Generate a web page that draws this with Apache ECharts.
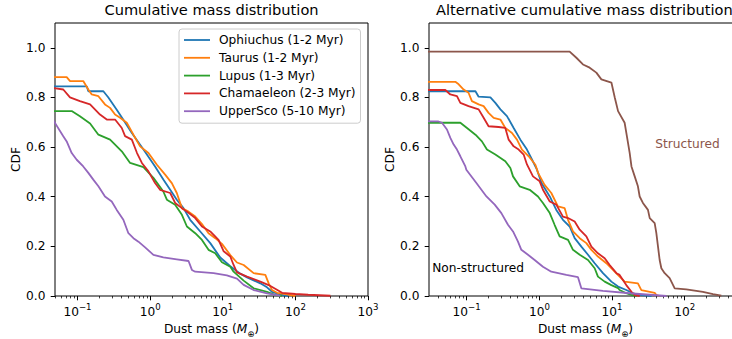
<!DOCTYPE html>
<html><head><meta charset="utf-8">
<script src="https://cdn.jsdelivr.net/npm/echarts@6/dist/echarts.min.js"></script>
<style>html,body{margin:0;padding:0;background:#fff}#c{width:732px;height:339px}</style>
</head><body><div id="c"></div>
<script>
// ---------- data (mass in Earth masses, CDF) ----------
const seriesNames = ['Ophiuchus (1-2 Myr)', 'Taurus (1-2 Myr)', 'Lupus (1-3 Myr)', 'Chamaeleon (2-3 Myr)', 'UpperSco (5-10 Myr)'];
const titles = ['Cumulative mass distribution', 'Alternative cumulative mass distribution'];
const yTicks = [0, 0.2, 0.4, 0.6, 0.8, 1.0];
const xMajorTicks = [0.1, 1, 10, 100, 1000];
const xMinorTicks = [0.02,0.03,0.04,0.05,0.06,0.07,0.08,0.09,0.2,0.3,0.4,0.5,0.6,0.7,0.8,0.9,2,3,4,5,6,7,8,9,20,30,40,50,60,70,80,90,200,300,400,500,600,700,800,900];
const xRangeLeft = [0.049, 1000];
const xRangeRight = [0.0303, 614];
const yRange = [0, 1.1];

// Left panel
const ophLeft = [[0.03,0.845],[0.134,0.845],[0.141,0.825],[0.227,0.825],[0.266,0.80],[0.347,0.75],[0.428,0.71],[0.56,0.657],[0.81,0.59],[1.17,0.522],[1.52,0.469],[1.89,0.428],[2.33,0.388],[2.88,0.354],[3.56,0.307],[4.9,0.26],[6.73,0.213],[9.24,0.155],[12.7,0.12],[17.4,0.09],[21.6,0.075],[32.9,0.051],[40.7,0.035],[47.7,0.017],[62.1,0.006],[80,0.0]];
const tauLeft = [[0.03,0.882],[0.071,0.882],[0.079,0.866],[0.12,0.866],[0.141,0.832],[0.157,0.812],[0.194,0.805],[0.239,0.772],[0.281,0.758],[0.329,0.731],[0.386,0.718],[0.477,0.698],[0.589,0.65],[0.728,0.603],[0.948,0.576],[1.24,0.529],[1.61,0.489],[1.99,0.455],[2.33,0.415],[2.74,0.354],[3.38,0.34],[4.18,0.32],[5.17,0.29],[6.37,0.253],[7.88,0.233],[9.75,0.21],[12.7,0.165],[15.7,0.135],[19.4,0.125],[26.6,0.092],[38.6,0.085],[42.9,0.051],[47.7,0.024],[55.9,0.013],[76.9,0.007],[100,0.0]];
const lupLeft = [[0.03,0.745],[0.0832,0.745],[0.108,0.724],[0.149,0.695],[0.194,0.65],[0.281,0.63],[0.407,0.583],[0.53,0.536],[0.809,0.519],[1.11,0.476],[1.52,0.421],[1.70,0.388],[2.21,0.368],[2.74,0.327],[3.21,0.28],[4.18,0.253],[5.17,0.226],[6.37,0.186],[7.88,0.172],[9.75,0.136],[12.7,0.118],[14.1,0.098],[19.4,0.062],[26.6,0.031],[40.7,0.017],[53,0.004],[65,0.0]];
const chaLeft = [[0.03,0.846],[0.0637,0.832],[0.0788,0.80],[0.108,0.785],[0.149,0.772],[0.204,0.731],[0.253,0.711],[0.329,0.711],[0.407,0.677],[0.452,0.644],[0.56,0.63],[0.66,0.576],[0.77,0.536],[0.948,0.502],[1.17,0.455],[1.37,0.428],[1.89,0.415],[2.21,0.375],[2.74,0.354],[3.21,0.34],[4.18,0.314],[5.17,0.28],[6.73,0.26],[8.75,0.226],[10.3,0.18],[12.7,0.159],[14.1,0.125],[15.7,0.095],[21.6,0.078],[32.9,0.058],[42.9,0.044],[58.9,0.021],[65.6,0.013],[100,0.008],[150,0.005],[304,0.001]];
const uscLeft = [[0.046,0.71],[0.0637,0.644],[0.071,0.623],[0.0832,0.576],[0.0975,0.549],[0.12,0.522],[0.141,0.496],[0.165,0.469],[0.194,0.442],[0.239,0.401],[0.296,0.381],[0.347,0.347],[0.428,0.307],[0.502,0.253],[0.589,0.233],[0.69,0.219],[0.853,0.196],[1.11,0.166],[1.52,0.156],[2.33,0.148],[3.38,0.141],[3.76,0.105],[4.18,0.098],[7.47,0.092],[11.4,0.083],[15.7,0.07],[19.4,0.045],[26.6,0.024],[40.7,0.011],[62.1,0.001]];

// Right panel
const ophRight = [[0.02,0.825],[0.132,0.825],[0.146,0.803],[0.212,0.80],[0.248,0.778],[0.291,0.752],[0.358,0.725],[0.443,0.677],[0.548,0.63],[0.675,0.59],[0.791,0.55],[0.927,0.509],[1.07,0.455],[1.39,0.401],[1.71,0.347],[2.11,0.307],[2.61,0.28],[3.06,0.233],[3.78,0.199],[4.67,0.166],[5.77,0.132],[7.5,0.092],[9.79,0.058],[12.1,0.038],[15.7,0.024],[19.4,0.011],[25.3,0.004],[35,0.0]];
const tauRight = [[0.02,0.863],[0.0698,0.863],[0.0776,0.853],[0.0908,0.832],[0.106,0.819],[0.118,0.785],[0.146,0.772],[0.171,0.765],[0.200,0.738],[0.235,0.718],[0.291,0.711],[0.340,0.677],[0.420,0.657],[0.492,0.63],[0.576,0.59],[0.713,0.563],[0.881,0.529],[0.96,0.496],[1.18,0.448],[1.46,0.415],[1.80,0.361],[2.23,0.354],[2.48,0.307],[2.90,0.26],[3.59,0.233],[4.43,0.213],[5.20,0.186],[6.40,0.159],[8.35,0.132],[10.3,0.105],[12.7,0.078],[14.9,0.058],[22.7,0.051],[25.3,0.024],[38.6,0.013],[40.7,0.004],[45,0.0]];
const lupRight = [[0.02,0.698],[0.0818,0.698],[0.101,0.677],[0.132,0.65],[0.162,0.623],[0.190,0.59],[0.248,0.57],[0.340,0.543],[0.399,0.516],[0.434,0.482],[0.536,0.442],[0.736,0.428],[0.957,0.401],[1.12,0.375],[1.39,0.334],[1.62,0.287],[1.90,0.24],[2.48,0.226],[2.90,0.186],[3.59,0.166],[4.67,0.145],[5.77,0.112],[6.40,0.078],[7.92,0.058],[9.79,0.044],[12.1,0.032],[12.7,0.024],[15.7,0.011],[18.5,0.004],[22,0.0]];
const chaRight = [[0.02,0.83],[0.0508,0.83],[0.0596,0.812],[0.0735,0.805],[0.0818,0.778],[0.106,0.765],[0.146,0.752],[0.171,0.718],[0.200,0.684],[0.275,0.681],[0.340,0.677],[0.378,0.63],[0.443,0.603],[0.519,0.59],[0.608,0.57],[0.675,0.53],[0.817,0.482],[1.01,0.462],[1.12,0.428],[1.39,0.381],[1.71,0.368],[2.11,0.32],[2.48,0.314],[3.06,0.30],[3.59,0.267],[4.43,0.24],[5.20,0.199],[6.40,0.172],[7.92,0.152],[9.27,0.125],[11.5,0.092],[12.7,0.085],[15.7,0.044],[18.5,0.017],[20.5,0.004],[24,0.0]];
const uscRight = [[0.02,0.704],[0.0402,0.704],[0.0457,0.698],[0.0535,0.671],[0.0596,0.637],[0.0662,0.61],[0.0735,0.59],[0.0818,0.563],[0.0959,0.522],[0.0989,0.509],[0.136,0.455],[0.187,0.401],[0.243,0.368],[0.300,0.334],[0.370,0.287],[0.434,0.26],[0.508,0.219],[0.565,0.186],[0.697,0.166],[0.861,0.145],[1.12,0.118],[1.46,0.098],[2.35,0.085],[3.40,0.076],[3.78,0.031],[7.5,0.021],[17.5,0.011],[36.6,0.004],[56,0.0]];
const structuredRight = [[0.02,0.985],[2.61,0.985],[3.23,0.96],[3.98,0.933],[4.92,0.92],[6.08,0.90],[7.13,0.873],[9.8,0.86],[10.9,0.80],[12.1,0.745],[14.9,0.698],[16.0,0.644],[17.5,0.576],[18.5,0.522],[20.5,0.482],[22.7,0.442],[24.0,0.401],[26.6,0.375],[31.2,0.347],[33.0,0.314],[38.6,0.294],[40.7,0.253],[42.9,0.199],[45.2,0.145],[47.7,0.112],[53,0.092],[62,0.072],[72.8,0.031],[105,0.027],[178,0.017],[245,0.008],[319,0.001]];

const annotations = [
  {text: 'Structured', at: [40, 0.6], color: '#8c564b'},
  {text: 'Non-structured', at: [0.034, 0.1], color: '#000000'}
];

// ---------- chart ----------
const FONT = 'DejaVu Sans';
const colors = ['#1f77b4', '#ff7f0e', '#2ca02c', '#d62728', '#9467bd'];
const brown = '#8c564b';
const chart = echarts.init(document.getElementById('c'), null, {renderer: 'svg'});

function logLabel(v) {
  const e = Math.round(Math.log10(v));
  return '{b|10}{s|' + (e < 0 ? '\u2212' + (-e) : e) + '}';
}
const tickRich = {
  b: {fontSize: 12.2, fontFamily: FONT, color: '#000', lineHeight: 16, verticalAlign: 'bottom'},
  s: {fontSize: 8.6, fontFamily: FONT, color: '#000', lineHeight: 6, verticalAlign: 'top'}
};
const nameRich = {
  n: {fontSize: 12.2, fontFamily: FONT, color: '#000', lineHeight: 16, verticalAlign: 'top'},
  i: {fontSize: 12.2, fontFamily: FONT, color: '#000', lineHeight: 16, verticalAlign: 'top', fontStyle: 'italic'},
  u: {fontSize: 8.6, fontFamily: FONT, color: '#000', lineHeight: 8, verticalAlign: 'bottom'}
};

function majorX(gridIndex, range) {
  return {
    type: 'log', gridIndex, min: range[0], max: range[1], position: 'bottom',
    axisLine: {show: false},
    splitLine: {show: false},
    axisTick: {show: true, length: 4.3, lineStyle: {color: '#000', width: 1}, customValues: xMajorTicks},
    axisLabel: {show: true, margin: 6, customValues: xMajorTicks, formatter: logLabel, rich: tickRich, hideOverlap: false},
    name: '{n|Dust mass (}{i|M}{u|\u2295}{n|)}', nameLocation: 'middle', nameGap: 25,
    nameTextStyle: {rich: nameRich}
  };
}
function minorX(gridIndex, range) {
  return {
    type: 'log', gridIndex, min: range[0], max: range[1], position: 'bottom',
    axisLine: {show: false}, splitLine: {show: false}, axisLabel: {show: false},
    axisTick: {show: true, length: 2.4, lineStyle: {color: '#000', width: 0.75}, customValues: xMinorTicks}
  };
}
function yAx(gridIndex, gap) {
  return {
    type: 'value', gridIndex, min: yRange[0], max: yRange[1],
    axisLine: {show: false}, splitLine: {show: false},
    axisTick: {show: true, length: 4.3, lineStyle: {color: '#000', width: 1}, customValues: yTicks},
    axisLabel: {show: true, margin: 9.5, customValues: yTicks, formatter: v => v.toFixed(1), fontSize: 12.2, fontFamily: FONT, color: '#000'},
    name: 'CDF', nameLocation: 'middle', nameRotate: 90, nameGap: gap,
    nameTextStyle: {fontSize: 12.2, fontFamily: FONT, color: '#000'}
  };
}
function line(name, data, color, panel) {
  return {
    type: 'line', name, data, xAxisIndex: panel * 2, yAxisIndex: panel,
    showSymbol: false, symbol: 'none', clip: true, animation: false,
    lineStyle: {width: 1.8, color}, itemStyle: {color}, emphasis: {disabled: true}
  };
}

const leftData = [ophLeft, tauLeft, lupLeft, chaLeft, uscLeft];
const rightData = [ophRight, tauRight, lupRight, chaRight, uscRight];
const series = [];
leftData.forEach((d, i) => series.push(line(seriesNames[i], d, colors[i], 0)));
rightData.forEach((d, i) => series.push(line(seriesNames[i], d, colors[i], 1)));
const structured = line('Structured', structuredRight, brown, 1);
structured.markPoint = {
  symbol: 'circle', symbolSize: 1, itemStyle: {color: 'rgba(0,0,0,0)'}, animation: false, silent: true,
  data: annotations.map(a => ({
    coord: a.at,
    label: {show: true, formatter: a.text, position: [0, 0], align: 'left', verticalAlign: 'bottom', offset: [0, 3],
      fontSize: 12.2, fontFamily: FONT, color: a.color}
  }))
};
series.push(structured);

chart.setOption({
  animation: false,
  backgroundColor: '#ffffff',
  title: [
    {text: titles[0], left: 211.5, textAlign: 'center', top: 0, padding: [2, 0, 0, 0], textStyle: {fontSize: 14.6, fontWeight: 'normal', fontFamily: FONT, color: '#000'}},
    {text: titles[1], left: 436, top: 0, padding: [2, 0, 0, 0], textStyle: {fontSize: 14.6, fontWeight: 'normal', fontFamily: FONT, color: '#000'}}
  ],
  grid: [
    {left: 55, top: 23, width: 313, height: 273, outerBoundsMode: 'none', containLabel: false, show: true, borderColor: '#000', borderWidth: 1, backgroundColor: 'transparent'},
    {left: 429, top: 23, width: 313, height: 273, outerBoundsMode: 'none', containLabel: false, show: true, borderColor: '#000', borderWidth: 1, backgroundColor: 'transparent'}
  ],
  xAxis: [majorX(0, xRangeLeft), minorX(0, xRangeLeft), majorX(1, xRangeRight), minorX(1, xRangeRight)],
  yAxis: [yAx(0, 31), yAx(1, 33)],
  legend: {
    data: seriesNames, orient: 'vertical', left: 179, top: 29,
    icon: 'rect', itemWidth: 26, itemHeight: 1.8, itemGap: 3.8,
    padding: [4, 5, 5, 5], backgroundColor: 'rgba(255,255,255,0.8)', borderColor: '#cccccc', borderWidth: 1, borderRadius: 3,
    textStyle: {fontSize: 12.2, fontFamily: FONT, color: '#000', lineHeight: 14, padding: [0, 0, 0, 4]},
    selectedMode: false
  },
  series
});
</script></body></html>
